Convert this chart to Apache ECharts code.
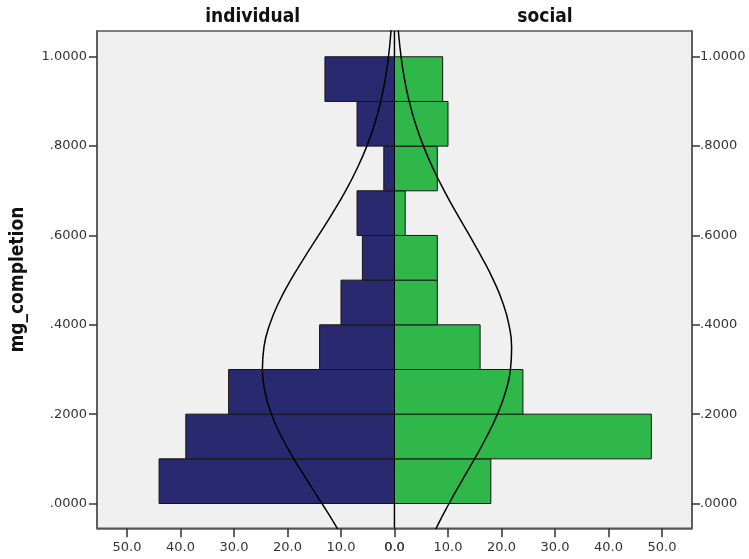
<!DOCTYPE html>
<html><head><meta charset="utf-8">
<script src="https://cdn.jsdelivr.net/npm/echarts@6/dist/echarts.min.js"></script>
<style>html,body{margin:0;padding:0;background:#fff}#c{width:749px;height:559px}</style>
</head><body><div id="c"></div>
<script>
// ---- data ----
const binStarts = [0.0, 0.1, 0.2, 0.3, 0.4, 0.5, 0.6, 0.7, 0.8, 0.9];
const binWidth = 0.1;
const individual = [44, 39, 31, 14, 10, 6, 7, 2, 7, 13];
const social = [18, 48, 24, 16, 8, 8, 2, 8, 10, 9];
const curveY = [-0.10, -0.05, 0.00, 0.05, 0.10, 0.15, 0.20, 0.25, 0.30, 0.35, 0.40, 0.45, 0.50,
                0.55, 0.60, 0.65, 0.70, 0.75, 0.80, 0.85, 0.90, 0.95, 1.00, 1.05, 1.10];
const individualCurve = [8.59, 10.97, 13.56, 16.23, 18.82, 21.14, 22.99, 24.21, 24.69, 24.40, 23.34, 21.63, 19.41,
                         16.87, 14.20, 11.58, 9.14, 6.99, 5.17, 3.71, 2.58, 1.73, 1.13, 0.71, 0.44];
const socialCurve = [6.09, 8.01, 10.20, 12.56, 14.96, 17.25, 19.24, 20.76, 21.67, 21.89, 21.39, 20.22, 18.49,
                     16.36, 14.01, 11.60, 9.30, 7.21, 5.41, 3.92, 2.75, 1.87, 1.23, 0.78, 0.48];
const xTicks = [0, 10, 20, 30, 40, 50];
const yTicks = [0, 0.2, 0.4, 0.6, 0.8, 1.0];
const yTickLabels = ['.0000', '.2000', '.4000', '.6000', '.8000', '1.0000'];
const panelTitles = ['individual', 'social'];
const yName = 'mg_completion';

// ---- chart ----
const X_MAX = 55.6, Y_MIN = -0.0555, Y_MAX = 1.0577;
const tickFont = { fontFamily: 'DejaVu Sans', fontSize: 13, color: '#333' };
const boldFont = "bold 19px 'DejaVu Sans Condensed', 'DejaVu Sans'";

function yLabel(v) {
  const i = yTicks.findIndex(t => Math.abs(t - v) < 1e-9);
  return i >= 0 ? yTickLabels[i] : '';
}

function xAxisCfg(gi, inverse) {
  return {
    gridIndex: gi, type: 'value', min: 0, max: X_MAX, inverse: inverse, position: 'bottom',
    axisLine: { show: true, onZero: false, lineStyle: { color: '#555', width: 1.5 } },
    axisTick: { show: true, length: 9, lineStyle: { color: '#333', width: 1.5 }, customValues: xTicks },
    axisLabel: Object.assign({ margin: 13, customValues: xTicks, formatter: v => v.toFixed(1) }, tickFont),
    splitLine: { show: false }
  };
}
function yAxisCfg(gi, pos, name) {
  return {
    gridIndex: gi, type: 'value', min: Y_MIN, max: Y_MAX, position: pos,
    name: name || '', nameLocation: 'middle', nameGap: 69, nameRotate: 90,
    nameTextStyle: { fontFamily: "'DejaVu Sans Condensed', 'DejaVu Sans'", fontWeight: 'bold', fontSize: 19, color: '#111' },
    axisLine: { show: true, onZero: false, lineStyle: { color: '#555', width: 1.5 } },
    axisTick: { show: true, length: 8, lineStyle: { color: '#333', width: 1.5 }, customValues: yTicks },
    axisLabel: Object.assign({ margin: pos === 'right' ? 8 : 10, customValues: yTicks, formatter: yLabel }, tickFont),
    splitLine: { show: false }
  };
}

function makeBarRender(color) {
  return function (params, api) {
    const y0 = api.value(0), y1 = api.value(1), v = api.value(2);
    const p0 = api.coord([0, y0]);
    const p1 = api.coord([v, y1]);
    return {
      type: 'rect',
      shape: { x: Math.min(p0[0], p1[0]), y: Math.min(p0[1], p1[1]),
               width: Math.abs(p1[0] - p0[0]), height: Math.abs(p1[1] - p0[1]) },
      style: { fill: color, stroke: '#151515', lineWidth: 1 }
    };
  };
}

const indData = binStarts.map((b, i) => [b, b + binWidth, individual[i]]);
const socData = binStarts.map((b, i) => [b, b + binWidth, social[i]]);
const indCurveData = curveY.map((y, i) => [individualCurve[i], y]);
const socCurveData = curveY.map((y, i) => [socialCurve[i], y]);

const chart = echarts.init(document.getElementById('c'), null, { renderer: 'canvas' });
chart.setOption({
  animation: false,
  backgroundColor: '#ffffff',
  grid: [
    { left: 97, top: 31, width: 297.5, height: 497.3, show: true, backgroundColor: '#f0f0f0', borderColor: '#555', borderWidth: 1.5 },
    { left: 394.5, top: 31, width: 297.5, height: 497.3, show: true, backgroundColor: '#f0f0f0', borderColor: '#555', borderWidth: 1.5 }
  ],
  xAxis: [xAxisCfg(0, true), xAxisCfg(1, false)],
  yAxis: [yAxisCfg(0, 'left', yName), yAxisCfg(1, 'right')],
  graphic: [
    { type: 'text', x: 252.6, y: 17, style: { text: panelTitles[0], font: boldFont, fill: '#111', textAlign: 'center', textVerticalAlign: 'middle' } },
    { type: 'text', x: 545, y: 17, style: { text: panelTitles[1], font: boldFont, fill: '#111', textAlign: 'center', textVerticalAlign: 'middle' } }
  ],
  series: [
    { type: 'custom', xAxisIndex: 0, yAxisIndex: 0, data: indData, encode: { x: 2, y: [0, 1] },
      renderItem: makeBarRender('#29296f'), z: 2 },
    { type: 'custom', xAxisIndex: 1, yAxisIndex: 1, data: socData, encode: { x: 2, y: [0, 1] },
      renderItem: makeBarRender('#2fb74a'), z: 2 },
    { type: 'line', xAxisIndex: 0, yAxisIndex: 0, data: indCurveData, smooth: true, showSymbol: false, symbol: 'none',
      lineStyle: { color: '#000', width: 1.5 }, clip: true, z: 4 },
    { type: 'line', xAxisIndex: 1, yAxisIndex: 1, data: socCurveData, smooth: true, showSymbol: false, symbol: 'none',
      lineStyle: { color: '#000', width: 1.5 }, clip: true, z: 4,
      markLine: { silent: true, symbol: 'none', label: { show: false },
                  lineStyle: { color: '#000', width: 1, type: 'solid' }, data: [{ xAxis: 0 }] } }
  ]
});
</script>
</body></html>
